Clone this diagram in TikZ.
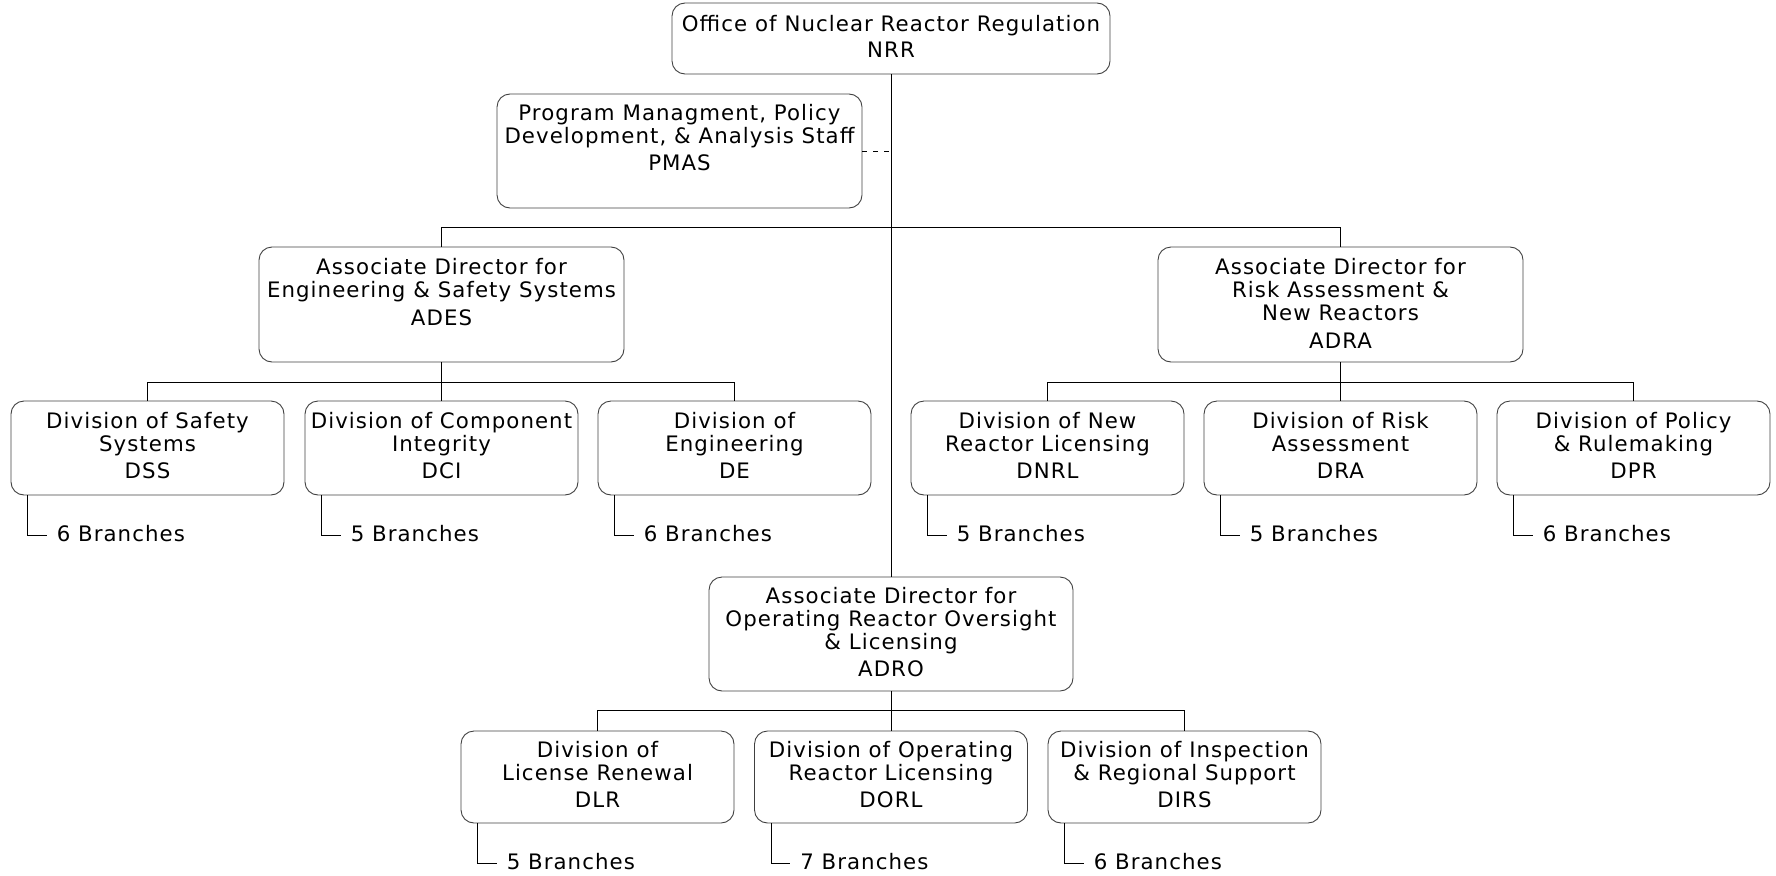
\documentclass[tikz,border=0pt]{standalone}
\usepackage{fontspec}
\setmainfont{DejaVu Sans}[LetterSpace=5]
\newcommand\boxtext[1]{\begin{tabular}[t]{@{}c@{}}#1\end{tabular}}
\tikzset{
  orgbox/.style={draw=black!75, rounded corners=13pt, line width=0.9pt, inner sep=0pt},
  orgtxt/.style={inner sep=0pt, anchor=base, font=\fontsize{21.3}{22.6}\selectfont},
  brtxt/.style={inner sep=0pt, anchor=base west, font=\fontsize{21.3}{22.6}\selectfont},
  conn/.style={line width=0.9pt, black},
  adbox/.style={orgbox, minimum width=365pt, minimum height=115pt},
  divbox/.style={orgbox, minimum width=273pt, minimum height=94pt},
  ldivbox/.style={orgbox, minimum width=273pt, minimum height=92pt}
}
\begin{document}
\begin{tikzpicture}[x=1pt,y=-1pt]
\useasboundingbox (0,0) rectangle (1776,875);
% boxes
\node[orgbox, minimum width=438pt, minimum height=71pt] (nrr) at (891,38.5) {};
\node[orgbox, minimum width=365pt, minimum height=114pt] (pmas) at (679.5,151) {};
\node[adbox] (ades) at (441.5,304.5) {};
\node[adbox] (adra) at (1340.5,304.5) {};
\node[divbox] (dss) at (147.5,448) {};
\node[divbox] (dci) at (441.5,448) {};
\node[divbox] (de) at (734.5,448) {};
\node[divbox] (dnrl) at (1047.5,448) {};
\node[divbox] (dra) at (1340.5,448) {};
\node[divbox] (dpr) at (1633.5,448) {};
\node[orgbox, minimum width=364pt, minimum height=114pt] (adro) at (891,634) {};
\node[ldivbox] (dlr) at (597.5,777) {};
\node[ldivbox] (dorl) at (891,777) {};
\node[ldivbox] (dirs) at (1184.5,777) {};
% texts
\node[orgtxt] (nrrt) at ([yshift=-29pt]nrr.north) {\boxtext{Office of Nuclear Reactor Regulation\\[3pt] NRR}};
\node[orgtxt] (pmast) at ([yshift=-27pt]pmas.north) {\boxtext{Program Managment, Policy\\ Development, \& Analysis Staff\\[4.5pt] PMAS}};
\node[orgtxt] (adest) at ([yshift=-28pt]ades.north) {\boxtext{Associate Director for\\ Engineering \& Safety Systems\\[5.5pt] ADES}};
\node[orgtxt] (adrat) at ([yshift=-28pt]adra.north) {\boxtext{Associate Director for\\ Risk Assessment \&\\ New Reactors\\[5.5pt] ADRA}};
\node[orgtxt] (dsst) at ([yshift=-28pt]dss.north) {\boxtext{Division of Safety\\ Systems\\[4.5pt] DSS}};
\node[orgtxt] (dcit) at ([yshift=-28pt]dci.north) {\boxtext{Division of Component\\ Integrity\\[4.5pt] DCI}};
\node[orgtxt] (det) at ([yshift=-28pt]de.north) {\boxtext{Division of\\ Engineering\\[4.5pt] DE}};
\node[orgtxt] (dnrlt) at ([yshift=-28pt]dnrl.north) {\boxtext{Division of New\\ Reactor Licensing\\[4.5pt] DNRL}};
\node[orgtxt] (drat) at ([yshift=-28pt]dra.north) {\boxtext{Division of Risk\\ Assessment\\[4.5pt] DRA}};
\node[orgtxt] (dprt) at ([yshift=-28pt]dpr.north) {\boxtext{Division of Policy\\ \& Rulemaking\\[4.5pt] DPR}};
\node[orgtxt] (adrot) at ([yshift=-27pt]adro.north) {\boxtext{Associate Director for\\ Operating Reactor Oversight\\ \& Licensing\\[4.5pt] ADRO}};
\node[orgtxt] (dlrt) at ([yshift=-27pt]dlr.north) {\boxtext{Division of\\ License Renewal\\[4.5pt] DLR}};
\node[orgtxt] (dorlt) at ([yshift=-27pt]dorl.north) {\boxtext{Division of Operating\\ Reactor Licensing\\[4.5pt] DORL}};
\node[orgtxt] (dirst) at ([yshift=-27pt]dirs.north) {\boxtext{Division of Inspection\\ \& Regional Support\\[4.5pt] DIRS}};
% branch labels
\node[brtxt] (dssb) at ([xshift=46pt,yshift=-46pt]dss.south west) {6 Branches};
\node[brtxt] (dcib) at ([xshift=46pt,yshift=-46pt]dci.south west) {5 Branches};
\node[brtxt] (deb) at ([xshift=46pt,yshift=-46pt]de.south west) {6 Branches};
\node[brtxt] (dnrlb) at ([xshift=46pt,yshift=-46pt]dnrl.south west) {5 Branches};
\node[brtxt] (drab) at ([xshift=46pt,yshift=-46pt]dra.south west) {5 Branches};
\node[brtxt] (dprb) at ([xshift=46pt,yshift=-46pt]dpr.south west) {6 Branches};
\node[brtxt] (dlrb) at ([xshift=46pt,yshift=-46pt]dlr.south west) {5 Branches};
\node[brtxt] (dorlb) at ([xshift=46pt,yshift=-46pt]dorl.south west) {7 Branches};
\node[brtxt] (dirsb) at ([xshift=46pt,yshift=-46pt]dirs.south west) {6 Branches};
\foreach \b in {dss,dci,de,dnrl,dra,dpr,dlr,dorl,dirs}{
  \draw[conn] ([xshift=17pt]\b.south west) |- ([xshift=-10pt,yshift=6pt]\b b.base west);
}
% connectors
\draw[conn] (nrr.south) -- (adro.north);
\draw[conn, dash pattern=on 5pt off 6pt] (pmas.east) -- (pmas.east -| nrr.south);
\draw[conn] (ades.north) -- ++(0,-19) -| (adra.north);
\draw[conn] (dss.north) -- ++(0,-18) -| (de.north);
\draw[conn] (ades.south) -- (dci.north);
\draw[conn] (dnrl.north) -- ++(0,-18) -| (dpr.north);
\draw[conn] (adra.south) -- (dra.north);
\draw[conn] (dlr.north) -- ++(0,-20) -| (dirs.north);
\draw[conn] (adro.south) -- (dorl.north);
\end{tikzpicture}
\end{document}
